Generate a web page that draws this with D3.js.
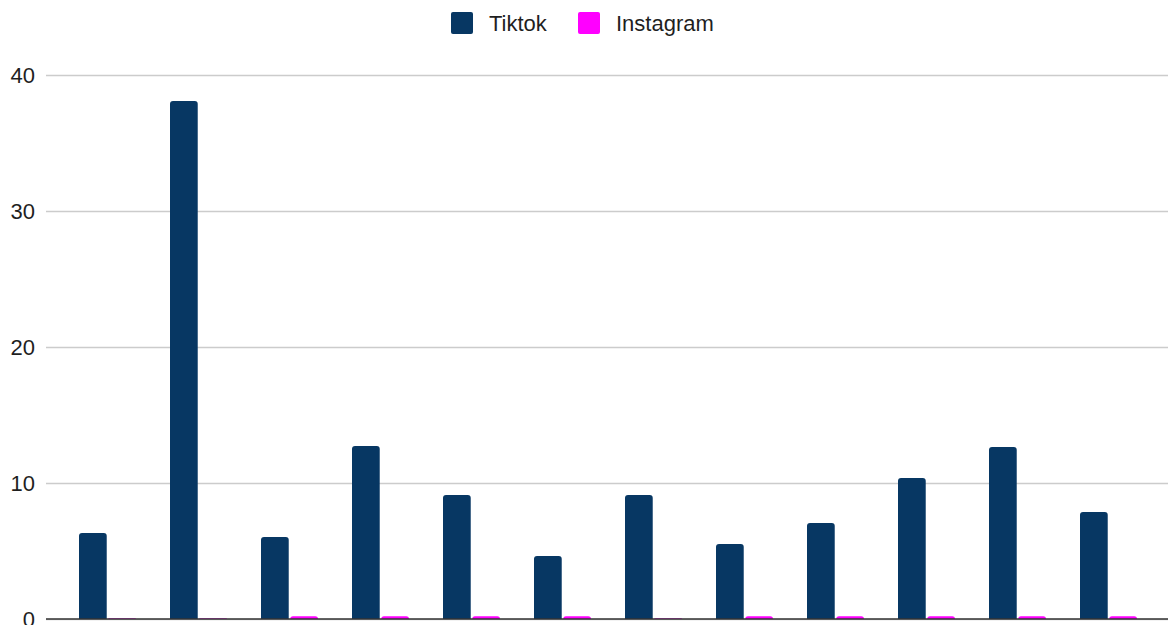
<!DOCTYPE html>
<html>
<head>
<meta charset="utf-8">
<script src="https://cdn.jsdelivr.net/npm/d3@7"></script>
<style>
  html, body { margin: 0; padding: 0; background: #fff; }
  svg { display: block; font-family: Arial, "Liberation Sans", sans-serif; }
</style>
</head>
<body>
<svg id="chart" width="1174" height="625"></svg>
<script>
// Series data, one entry per category (12 groups)
const categories = ["1","2","3","4","5","6","7","8","9","10","11","12"];
const tiktok    = [6.32, 38.09, 6.03, 12.72, 9.12, 4.63, 9.12, 5.51, 7.06, 10.37, 12.65, 7.87];
const instagram = [0.05, 0.05, 0.2, 0.2, 0.2, 0.2, 0.05, 0.2, 0.2, 0.2, 0.2, 0.2];
const seriesNames = ["Tiktok", "Instagram"];
const seriesColors = ["#073763", "#ff00ff"];
const yTicks = [0, 10, 20, 30, 40];

const svg = d3.select("#chart");
const gridLeft = 46, gridRight = 1168;
const plotTop = 75, plotBottom = 619;

const y = d3.scaleLinear().domain([0, 40]).range([plotBottom, plotTop]);
const x = d3.scaleBand().domain(categories).range([62, 1154]).paddingInner(0).paddingOuter(0);
const xInner = d3.scaleBand().domain(seriesNames).range([17, 74]).paddingInner(3 / 57);

// Horizontal gridlines with labels
const yAxis = d3.axisLeft(y).tickValues(yTicks).tickSize(-(gridRight - gridLeft)).tickPadding(11).tickFormat(d3.format("d"));
const gAxis = svg.append("g").attr("transform", `translate(${gridLeft},0)`).call(yAxis);
gAxis.select(".domain").remove();
gAxis.selectAll(".tick line").attr("stroke", "#cccccc").attr("stroke-width", 1.3);
gAxis.selectAll(".tick text").attr("fill", "#1f1f1f").attr("font-size", 22).attr("x", -11).attr("dy", "0.36em");

// Bars with rounded tops
function barPath(x0, w, yTop, yBase, r) {
  const h = yBase - yTop;
  const rr = Math.min(r, h, w / 2);
  return `M${x0},${yBase}V${yTop + rr}Q${x0},${yTop} ${x0 + rr},${yTop}H${x0 + w - rr}Q${x0 + w},${yTop} ${x0 + w},${yTop + rr}V${yBase}Z`;
}

const data = categories.map((c, i) => ({ c, vals: [tiktok[i], instagram[i]] }));
const groups = svg.append("g").selectAll("g").data(data).join("g")
  .attr("transform", d => `translate(${x(d.c)},0)`);
groups.selectAll("path").data(d => d.vals.map((v, j) => ({ v, s: seriesNames[j], color: seriesColors[j] })))
  .join("path")
  .attr("d", d => barPath(xInner(d.s), xInner.bandwidth(), y(d.v), y(0), 3))
  .attr("fill", d => d.color);

// Baseline
svg.append("line").attr("x1", gridLeft).attr("x2", gridRight)
  .attr("y1", y(0)).attr("y2", y(0)).attr("stroke", "#333").attr("stroke-width", 1.5);

// Legend
const legendX = [451, 578];
const legend = svg.append("g");
seriesNames.forEach((name, i) => {
  legend.append("rect").attr("x", legendX[i]).attr("y", 12).attr("width", 22).attr("height", 22)
    .attr("rx", 2).attr("fill", seriesColors[i]);
  legend.append("text").attr("x", legendX[i] + 38).attr("y", 31)
    .attr("font-size", 22).attr("fill", "#1f1f1f").text(name);
});
</script>
</body>
</html>
